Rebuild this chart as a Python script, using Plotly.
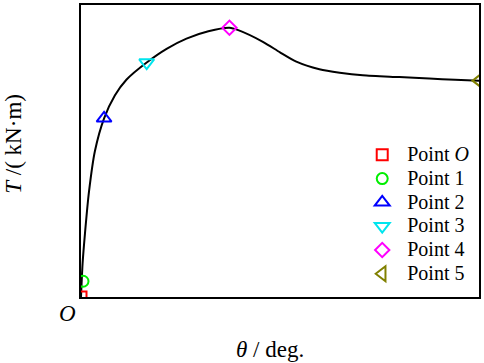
import plotly.graph_objects as go

# Curve (theta, T) in normalized units (0-100 of axis span)
curve_x = [0, 0.4, 1.0, 2.0, 3.5, 5.8, 8.5, 11.4, 16.5, 21.5, 26.5, 32.0, 37.3, 39.5, 45.7, 50.0, 54.1, 59.9, 65.0, 70.8, 80.0, 87.5, 94.0, 100]
curve_y = [0, 11.5, 21.8, 36.0, 50.0, 61.2, 69.0, 74.4, 80.3, 85.0, 88.5, 91.0, 92.2, 91.4, 87.4, 83.8, 80.6, 78.0, 76.8, 75.9, 75.3, 74.8, 74.4, 74.1]

point_names = ["Point <i>O</i>", "Point 1", "Point 2", "Point 3", "Point 4", "Point 5"]
point_x = [0, 0.5, 5.8, 16.5, 37.3, 100]
point_y = [0, 5.4, 61.2, 80.3, 92.2, 74.1]
point_symbols = ["square-open", "circle-open", "triangle-up-open", "triangle-down-open", "diamond-open", "triangle-left-open"]
point_colors = ["#ff0000", "#00ee00", "#0000ff", "#00e5ee", "#ff00ff", "#808000"]

FONT = "Liberation Serif"

fig = go.Figure()
fig.add_trace(go.Scatter(x=curve_x, y=curve_y, mode="lines", line=dict(color="black", width=2, shape="spline", smoothing=0.7),
                         showlegend=False, hoverinfo="skip"))
for name, px, py, sym, col in zip(point_names, point_x, point_y, point_symbols, point_colors):
    msize = 13 if sym.startswith("triangle") else 11
    fig.add_trace(go.Scatter(x=[px], y=[py], mode="markers",
                             name='<span style="font-size:20px">' + name + '</span>',
                             marker=dict(symbol=sym, size=msize, color=col, line=dict(color=col, width=2))))

fig.update_layout(
    width=484, height=363,
    margin=dict(l=81, r=4, t=3, b=66),
    plot_bgcolor="white", paper_bgcolor="white",
    font=dict(family=FONT, size=16, color="black"),
    showlegend=True,
    legend=dict(x=0.988, y=0.545, xanchor="right", yanchor="top", bgcolor="rgba(0,0,0,0)",
                font=dict(family=FONT, size=16), tracegroupgap=0, itemwidth=40),
    xaxis=dict(range=[0, 100], showline=True, linecolor="black", linewidth=2, mirror=True,
               showgrid=False, zeroline=False, showticklabels=False, ticks=""),
    yaxis=dict(range=[0, 100], showline=True, linecolor="black", linewidth=2, mirror=True,
               showgrid=False, zeroline=False, showticklabels=False, ticks=""),
    annotations=[
        dict(text="<i>O</i>", xref="paper", yref="paper", x=-0.035, y=-0.058, xanchor="center", yanchor="middle",
             showarrow=False, font=dict(family=FONT, size=23)),
        dict(text="<i>θ</i> / deg.", xref="paper", yref="paper", x=0.474, y=-0.18, xanchor="center", yanchor="middle",
             showarrow=False, font=dict(family=FONT, size=23)),
        dict(text="<i>T</i> /( kN·m)", xref="paper", yref="paper", x=-0.169, y=0.524, xanchor="center", yanchor="middle",
             textangle=-90, showarrow=False, font=dict(family=FONT, size=23)),
    ],
)

fig.write_html("out.html", config={"displayModeBar": False},
               post_script="document.body.style.margin='0';document.body.style.overflow='hidden';")
